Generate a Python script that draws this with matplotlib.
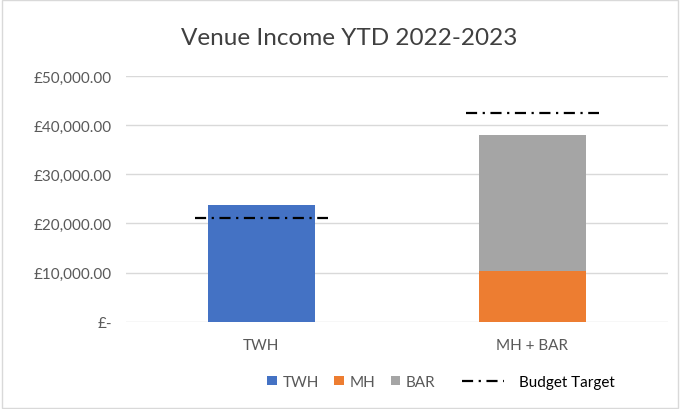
import numpy as np
import matplotlib.pyplot as plt
from matplotlib.ticker import FuncFormatter
from matplotlib.patches import Rectangle

# Дані
categories = ['TWH', 'MH + BAR']
twh = [23830, 0]
mh = [0, 10390]
bar = [0, 27700]
budget = [21060, 42440]

colors = {'TWH': '#4472C4', 'MH': '#ED7D31', 'BAR': '#A5A5A5'}

plt.rcParams['font.family'] = ['Lato', 'DejaVu Sans']

fig = plt.figure(figsize=(6.8, 4.1), dpi=100)
ax = fig.add_axes([0.185, 0.213, 0.797, 0.599])

x = np.arange(len(categories))
w = 0.396
b1 = ax.bar(x, twh, w, color=colors['TWH'], label='TWH', zorder=3)
b2 = ax.bar(x, mh, w, color=colors['MH'], label='MH', zorder=3)
b3 = ax.bar(x, bar, w, bottom=mh, color=colors['BAR'], label='BAR', zorder=3)

# Бюджетні цілі
ls = (0, (5, 2.5, 1, 2.5))
for i, b in enumerate(budget):
    line, = ax.plot([x[i] - 0.245, x[i] + 0.245], [b, b], color='black', lw=1.6,
                    linestyle=ls, zorder=4)

ax.set_xlim(-0.5, 1.5)
ax.set_ylim(0, 50000)
ax.set_yticks(range(0, 50001, 10000))
ax.yaxis.set_major_formatter(FuncFormatter(
    lambda v, p: '£-' if v == 0 else f'£{v:,.2f}'))
ax.set_xticks(x)
ax.set_xticklabels(categories)
ax.grid(axis='y', color='#D9D9D9', lw=1, zorder=0)
for s in ax.spines.values():
    s.set_visible(False)
ax.tick_params(length=0, colors='#595959', labelsize=11, pad=10)
ax.tick_params(axis='x', pad=12)

fig.text(0.513, 0.905, 'Venue Income YTD 2022-2023', ha='center', va='center',
         fontsize=17.5, color='#404040')

leg1 = fig.legend([b1, b2, b3], ['TWH', 'MH', 'BAR'],
                  loc='center', bbox_to_anchor=(0.517, 0.066), ncol=3, frameon=False,
                  fontsize=11, labelcolor='#595959',
                  handlelength=0.6, handleheight=0.6, columnspacing=1.0, handletextpad=0.4)
leg2 = fig.legend([line], ['Budget Target'],
                  loc='center', bbox_to_anchor=(0.792, 0.066), frameon=False,
                  fontsize=11, labelcolor='black',
                  handlelength=2.7, handletextpad=1.0)

fig.patches.append(Rectangle((0.003, 0.003), 0.994, 0.994, transform=fig.transFigure,
                             fill=False, edgecolor='#D9D9D9', lw=1))

plt.savefig('out.png', dpi=100)
